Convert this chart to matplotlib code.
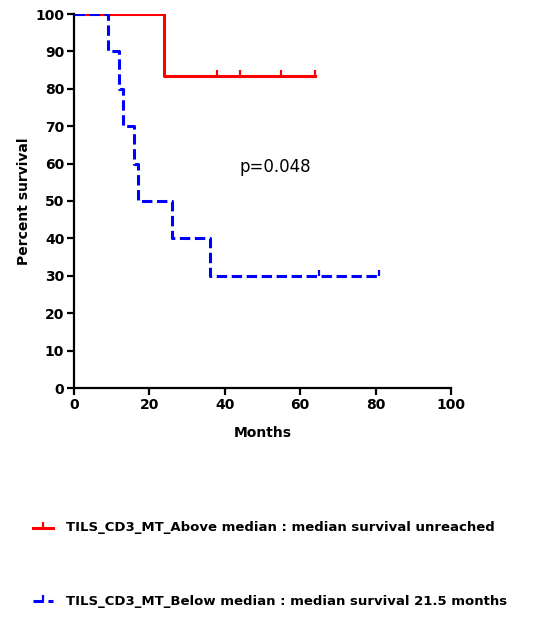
import matplotlib
matplotlib.use("Agg")
import matplotlib.pyplot as plt
import numpy as np

# Data
above_times = [0, 24, 64]
above_surv = [100, 83.33, 83.33]
above_censor_t = [38, 44, 55, 64]
above_censor_s = [83.33, 83.33, 83.33, 83.33]

below_times = [0, 9, 12, 13, 16, 17, 26, 36, 81]
below_surv = [100, 90, 80, 70, 60, 50, 40, 30, 30]
below_censor_t = [65, 81]
below_censor_s = [30, 30]

xticks = [0, 20, 40, 60, 80, 100]
yticks = [0, 10, 20, 30, 40, 50, 60, 70, 80, 90, 100]

labels = ["TILS_CD3_MT_Above median : median survival unreached",
          "TILS_CD3_MT_Below median : median survival 21.5 months"]

plt.rcParams['font.family'] = ['DejaVu Sans']

fig = plt.figure(figsize=(5.37, 6.23), dpi=100)
ax = fig.add_axes([74/537, 1-388/623, (451-74)/537, (388-14)/623])

lw = 2.2
ax.step(above_times, above_surv, where='post', color='#ff0000', lw=lw, zorder=2)
ax.plot(above_censor_t, above_censor_s, linestyle='none', marker=2, ms=4.5, mew=1.6,
        color='#ff0000', zorder=2)
ax.step(below_times, below_surv, where='post', color='#0000ff', lw=lw,
        dashes=(3.4, 1.5), zorder=3)
ax.plot(below_censor_t, below_censor_s, linestyle='none', marker=2, ms=4.5, mew=1.6,
        color='#0000ff', zorder=3)

ax.set_xlim(0, 100)
ax.set_ylim(0, 100)
ax.set_xticks(xticks)
ax.set_yticks(yticks)
ax.set_xticklabels([str(v) for v in xticks], fontsize=10, fontweight='bold')
ax.set_yticklabels([str(v) for v in yticks], fontsize=10, fontweight='bold')
for s in ['top', 'right']:
    ax.spines[s].set_visible(False)
for s in ['left', 'bottom']:
    ax.spines[s].set_linewidth(1.6)
ax.tick_params(direction='out', length=5, width=1.6, pad=2)

ax.set_xlabel("Months", fontsize=10, fontweight='bold', labelpad=10)
ax.set_ylabel("Percent survival", fontsize=10, fontweight='bold', labelpad=3)

ax.text(53.3, 59.1, "p=0.048", fontsize=12, ha='center', va='center')

# Legend drawn manually in figure coordinates
from matplotlib.lines import Line2D
def fy(py):
    return 1 - py/623
def fx(px):
    return px/537

l1 = Line2D([fx(33), fx(53)], [fy(528), fy(528)], color='#ff0000', lw=lw,
            transform=fig.transFigure)
fig.add_artist(l1)
l1t = Line2D([fx(43)], [fy(528)], color='#ff0000', marker=2, ms=4.5, mew=1.6,
             linestyle='none', transform=fig.transFigure)
fig.add_artist(l1t)
l2 = Line2D([fx(33), fx(53)], [fy(601), fy(601)], color='#0000ff', lw=lw,
            dashes=(3.4, 1.5), transform=fig.transFigure)
fig.add_artist(l2)
l2t = Line2D([fx(43)], [fy(601)], color='#0000ff', marker=2, ms=4.5, mew=1.6,
             linestyle='none', transform=fig.transFigure)
fig.add_artist(l2t)

fig.text(fx(66), fy(528), labels[0], fontsize=9.5, fontweight='bold', va='center')
fig.text(fx(66), fy(601), labels[1], fontsize=9.5, fontweight='bold', va='center')

fig.savefig("out.png", dpi=100)
